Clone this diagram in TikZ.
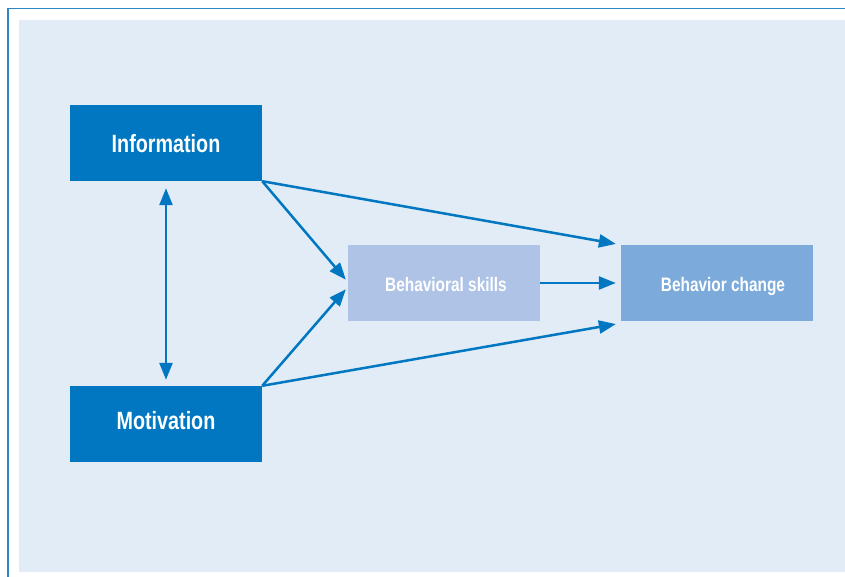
\documentclass[tikz,border=0pt]{standalone}
\usepackage{fontspec}
\setmainfont{Liberation Sans}
\newfontfamily\condfont[FakeStretch=0.79]{Liberation Sans}
\usetikzlibrary{arrows.meta}
\definecolor{darkblue}{HTML}{0077C0}
\definecolor{bgblue}{HTML}{E1ECF7}
\definecolor{skillblue}{HTML}{AEC3E6}
\definecolor{changeblue}{HTML}{7BAADB}
\definecolor{frameblue}{HTML}{2E86C8}
\tikzset{
  box/.style={rectangle, minimum width=192pt, minimum height=76pt, inner sep=0pt, text=white},
  bigbox/.style={box, fill=darkblue, text height=18pt, text depth=0pt, font=\condfont\bfseries\fontsize{25}{30}\selectfont},
  smallbox/.style={box, text height=14pt, text depth=0pt, font=\condfont\bfseries\fontsize{19.5}{24}\selectfont},
  conn/.style={draw=darkblue, line width=2.5pt, -{Triangle[length=17pt,width=13pt]}},
  dconn/.style={draw=darkblue, line width=2.5pt, {Triangle[length=17pt,width=13pt]}-{Triangle[length=17pt,width=13pt]}}
}
\begin{document}
\begin{tikzpicture}[x=1pt,y=-1pt]
\useasboundingbox (0,0) rectangle (845,577);
\fill[white] (0,0) rectangle (845,577);
\draw[frameblue, line width=1.5pt] (8,577) -- (8,8.5) -- (845,8.5);
\fill[bgblue] (19,20) rectangle (845,572);
\node[bigbox] (info) at (166,143) {\raisebox{-1pt}{Information}};
\node[bigbox] (mot) at (166,424) {\raisebox{4pt}{Motivation}};
\node[smallbox, fill=skillblue] (skills) at (444,283) {\hspace*{4pt}\raisebox{-1pt}{Behavioral skills}};
\node[smallbox, fill=changeblue] (change) at (717,283) {\hspace*{12pt}\raisebox{-1pt}{Behavior change}};
\draw[dconn, shorten <=7pt, shorten >=6pt] (info.south) -- (mot.north);
\draw[conn, shorten >=3pt] (info.south east) -- ([yshift=1pt]skills.west);
\draw[conn, shorten >=3pt] (mot.north east) -- ([yshift=-4pt]skills.west);
\draw[conn, shorten >=5pt] (info.south east) -- (change.north west);
\draw[conn, shorten >=5pt] (skills.east) -- (change.west);
\draw[conn, shorten >=5pt] (mot.north east) -- ([yshift=-2pt]change.south west);
\end{tikzpicture}
\end{document}
